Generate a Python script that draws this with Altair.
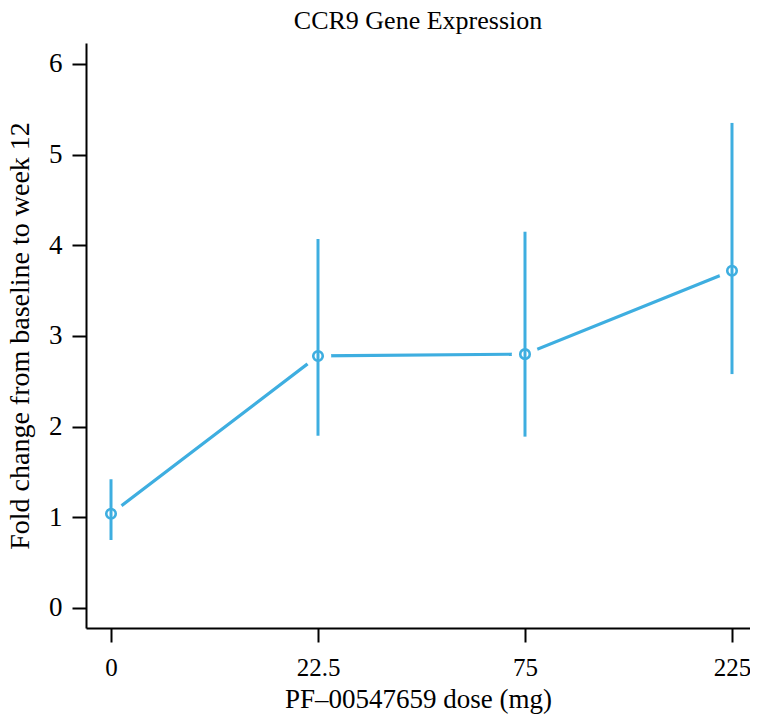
import altair as alt
import pandas as pd

# values
doses = ["0", "22.5", "75", "225"]
fold_change = [1.04, 2.78, 2.80, 3.72]
lower = [0.75, 1.90, 1.89, 2.58]
upper = [1.42, 4.07, 4.15, 5.35]

blue = "#3eaee0"
font = "Liberation Serif"

df = pd.DataFrame({
    "idx": list(range(len(doses))),
    "dose": doses,
    "fold": fold_change,
    "lo": lower,
    "hi": upper,
})

label_expr = "[" + ",".join("'%s'" % d for d in doses) + "][datum.value]"

x = alt.X(
    "idx:Q",
    scale=alt.Scale(domain=[-0.1208, 3.087], nice=False, zero=False),
    axis=alt.Axis(
        title="PF\u201300547659 dose (mg)",
        values=[0, 1, 2, 3],
        labelExpr=label_expr,
        labelFlush=False,
        grid=False,
        tickSize=14,
        tickWidth=2,
        domainWidth=2,
        domainColor="black",
        tickColor="black",
        labelPadding=13,
        labelFontSize=25,
        titleFontSize=27,
        titlePadding=6,
        labelFont=font,
        titleFont=font,
        titleFontWeight="normal",
        labelColor="black",
        titleColor="black",
    ),
)

y_axis = alt.Axis(
    title="Fold change from baseline to week 12",
    values=[0, 1, 2, 3, 4, 5, 6],
    format="d",
    grid=False,
    tickSize=14,
    tickWidth=2,
    domainWidth=2,
    domainColor="black",
    tickColor="black",
    labelPadding=10,
    labelFontSize=27,
    titleFontSize=28,
    titlePadding=14,
    labelFont=font,
    titleFont=font,
    titleFontWeight="normal",
    labelColor="black",
    titleColor="black",
)
y_scale = alt.Scale(domain=[-0.2206, 6.2316], nice=False, zero=False)

base = alt.Chart(df)

line = base.mark_line(color=blue, strokeWidth=3.2).encode(
    x=x, y=alt.Y("fold:Q", scale=y_scale, axis=y_axis)
)
# white disks make the small gaps between the line and the points
gaps = base.mark_point(filled=True, color="white", opacity=1, size=700, shape="circle").encode(
    x=x, y=alt.Y("fold:Q")
)
bars = base.mark_rule(color=blue, strokeWidth=3).encode(
    x=x, y=alt.Y("lo:Q"), y2="hi:Q"
)
points = base.mark_point(filled=False, color=blue, size=90, strokeWidth=2.6, opacity=1, shape="circle").encode(
    x=x, y=alt.Y("fold:Q")
)

chart = (line + gaps + bars + points).properties(
    width=664,
    height=585,
    autosize=alt.AutoSizeParams(type="none"),
    padding={"left": 78, "top": 35, "right": 0, "bottom": 90},
    title=alt.TitleParams(
        "CCR9 Gene Expression",
        font=font,
        fontSize=26,
        fontWeight="normal",
        color="black",
        anchor="middle",
        offset=9,
    ),
).configure_view(stroke=None)

chart.save("out.html", embed_options={"renderer": "svg", "actions": False})
